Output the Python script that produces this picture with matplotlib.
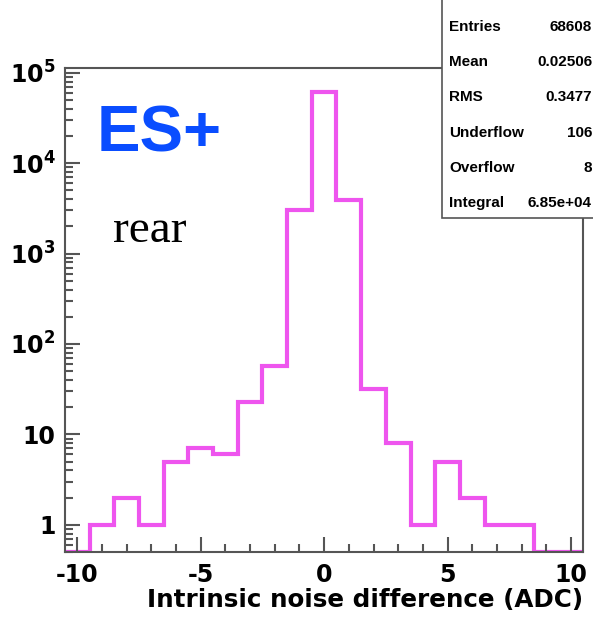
import matplotlib
matplotlib.use("Agg")
import matplotlib.pyplot as plt
from matplotlib.patches import Rectangle
from matplotlib.ticker import FixedLocator, FixedFormatter, MultipleLocator, LogLocator, NullFormatter
import numpy as np

# histogram: 21 bins of width 1, centred on -10 .. 10
bin_edges = np.arange(-10.5, 11.0, 1.0)
counts = [0, 1, 2, 1, 5, 7, 6, 23, 57, 3000, 61000, 3900, 32, 8, 1, 5, 2, 1, 1, 0, 0]

stat_names = ["Entries", "Mean", "RMS", "Underflow", "Overflow", "Integral"]
stat_values = ["68608", "0.02506", "0.3477", "106", "8", "6.85e+04"]

ytick_vals = [1, 10, 100, 1000, 10000, 100000]
ytick_labels = ["1", "10", r"$\mathbf{10^{2}}$", r"$\mathbf{10^{3}}$", r"$\mathbf{10^{4}}$", r"$\mathbf{10^{5}}$"]

plt.rcParams['font.family'] = ['Liberation Sans', 'DejaVu Sans']
plt.rcParams['mathtext.fontset'] = 'custom'
plt.rcParams['mathtext.bf'] = 'DejaVu Sans:bold'
plt.rcParams['mathtext.rm'] = 'DejaVu Sans:bold'
plt.rcParams['axes.unicode_minus'] = False

ymin, ymax = 0.5, 1.13e5
fig = plt.figure(figsize=(5.93, 6.17), dpi=100)
ax = fig.add_axes([65/593, 1-552/617, (583.3-65)/593, (552-68)/617])

ax.stairs(np.maximum(counts, ymin), bin_edges, color='#ee55ee', lw=3)
ax.set_yscale('log')
ax.set_xlim(-10.5, 10.5)
ax.set_ylim(ymin, ymax)

ax.yaxis.set_major_locator(FixedLocator(ytick_vals))
ax.yaxis.set_major_formatter(FixedFormatter(ytick_labels))
ax.yaxis.set_minor_locator(LogLocator(base=10, subs=np.arange(2, 10)))
ax.yaxis.set_minor_formatter(NullFormatter())
ax.xaxis.set_major_locator(MultipleLocator(5))
ax.xaxis.set_minor_locator(MultipleLocator(1))

ax.tick_params(which='both', direction='in', color='#555555', width=1.5)
ax.tick_params(which='major', length=11, labelsize=17)
ax.tick_params(which='minor', length=6)
ax.tick_params(axis='y', which='major', pad=7)
ax.tick_params(axis='x', which='major', pad=8)
for lab in ax.get_xticklabels() + ax.get_yticklabels():
    lab.set_fontweight('bold')
    lab.set_family('DejaVu Sans')
for sp in ax.spines.values():
    sp.set_color('#555555')
    sp.set_linewidth(1.5)

ax.set_xlabel("Intrinsic noise difference (ADC)", fontsize=17.7, fontweight='bold',
              family='DejaVu Sans', loc='right', labelpad=1)

fig.text(97/593, 1-151/617, "ES+", fontsize=47, fontweight='bold', color='#0a4dff')
fig.text(113/593, 1-242/617, "rear", fontsize=34, family='Liberation Serif')

# stats box
box = Rectangle((442/593, 1-218/617), 0.3, 0.5, transform=fig.transFigure,
                facecolor='white', edgecolor='#555555', lw=1.2, zorder=5)
fig.add_artist(box)
for i, (n, v) in enumerate(zip(stat_names, stat_values)):
    y = 1 - (27 + i*35.2)/617
    fig.text(449/593, y, n, fontsize=11, fontweight='bold', va='center', zorder=6)
    fig.text(592/593, y, v, fontsize=11, fontweight='bold', va='center', ha='right', zorder=6)

fig.savefig("out.png", dpi=100)
